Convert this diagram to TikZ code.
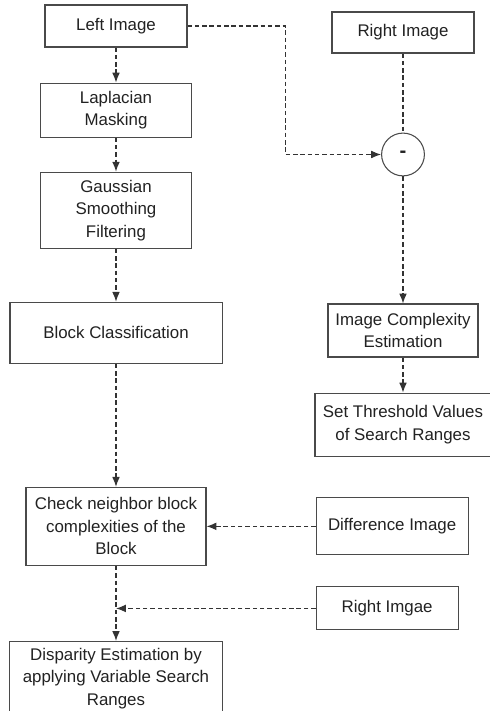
\documentclass[tikz,border=0pt]{standalone}
\usepackage{fontspec}
\setmainfont{Liberation Sans}
\usetikzlibrary{arrows.meta, positioning}
\definecolor{BoxLine}{HTML}{4A4A4A}
\definecolor{FlowLine}{HTML}{333333}
\definecolor{TextInk}{HTML}{222222}

\begin{document}
\begin{tikzpicture}[
  x=0.025cm, y=-0.025cm,
  font=\fontsize{12}{16}\selectfont,
  >={Latex[length=7pt, width=5.5pt]},
  box/.style={rectangle, draw=BoxLine, line width=0.75pt, fill=white,
              text=TextInk, align=center, inner sep=2pt},
  opnode/.style={circle, draw=BoxLine, line width=0.75pt, fill=white,
                 minimum size=1.07cm, inner sep=0pt, text=TextInk},
  flow/.style={->, draw=FlowLine, line width=0.8pt, dash pattern=on 3.2pt off 2pt},
  link/.style={draw=FlowLine, line width=0.8pt, dash pattern=on 3.2pt off 2pt},
]
\useasboundingbox (0,0) rectangle (489,711);

% --- left column ---
\node[box, minimum width=3.55cm, minimum height=1.05cm] (left) at (116,26) {Left Image};
\node[box, minimum width=3.775cm, minimum height=1.35cm, below=0.875cm of left] (lap)
  {Laplacian\\Masking};
\node[box, minimum width=3.775cm, minimum height=1.9cm, below=0.85cm of lap] (gauss)
  {Gaussian\\Smoothing\\Filtering};
\node[box, minimum width=5.3cm, minimum height=1.525cm, below=1.325cm of gauss] (blockcls)
  {Block Classification};
\node[box, minimum width=4.5cm, minimum height=1.95cm, below=3.075cm of blockcls] (check)
  {Check neighbor block\\complexities of the\\Block};
\node[box, minimum width=5.325cm, minimum height=1.85cm, below=1.875cm of check] (disp)
  {Disparity Estimation by\\applying Variable Search\\Ranges};

% --- right column ---
\node[box, minimum width=3.55cm, minimum height=1.025cm] (rightimg) at (403,32.5) {Right Image};
\node[opnode, below=1.975cm of rightimg] (minus) {\Large\textbf{-}};
\node[box, minimum width=3.75cm, minimum height=1.325cm, below=3.175cm of minus] (complexity)
  {Image Complexity\\Estimation};
\node[box, minimum width=4.4cm, minimum height=1.575cm, below=0.875cm of complexity] (thresh)
  {Set Threshold Values\\of Search Ranges};

% --- side inputs ---
\node[box, minimum width=3.8cm, minimum height=1.425cm, right=2.725cm of check] (diffimg)
  {Difference Image};
\node[box, minimum width=3.55cm, minimum height=1.075cm,
      below=0.775cm of diffimg.south west, anchor=north west] (rimgae) {Right Imgae};

\coordinate (merge) at (check.south |- rimgae.west);

% --- arrows ---
\draw[flow] (left) -- (lap);
\draw[flow] (lap) -- (gauss);
\draw[flow] (gauss) -- (blockcls);
\draw[flow] (blockcls) -- (check);
\draw[flow] (check) -- (disp);

\draw[flow] (left.east) -- ++(98,0) |- (minus.west);
\draw[link] (rightimg.south) -- (minus.north);
\draw[flow] (minus.south) -- (complexity.north);
\draw[flow] (complexity) -- (thresh);

\draw[flow] (diffimg.west) -- (check.east);
\draw[flow] (rimgae.west) -- (merge);

\end{tikzpicture}
\end{document}
